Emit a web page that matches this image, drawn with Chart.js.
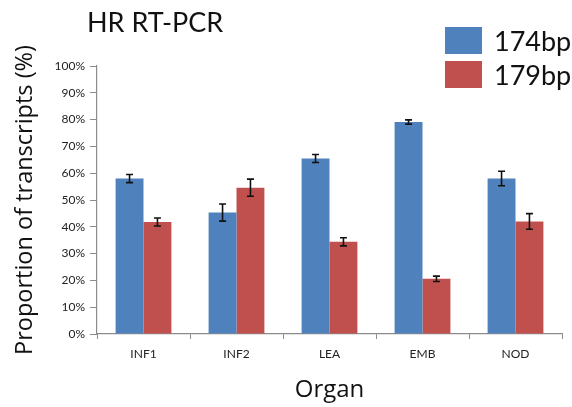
<!DOCTYPE html>
<html>
<head>
<meta charset="utf-8">
<script src="https://cdn.jsdelivr.net/npm/chart.js@4/dist/chart.umd.min.js"></script>
<style>
  html, body { margin: 0; padding: 0; background: #fff; }
  #wrap { position: relative; width: 572px; height: 407px; font-family: Lato, "Open Sans", sans-serif; }
  #title { position: absolute; left: 87px; top: 8px; font-size: 27px; line-height: 1; color: #111; }
  #legend { position: absolute; left: 445px; top: 23px; }
  #legend .item { display: flex; align-items: center; height: 34px; font-size: 27px; color: #111; }
  #legend .box { width: 37px; height: 27px; margin-right: 12px; }
</style>
</head>
<body>
<div id="wrap">
  <canvas id="chart" width="572" height="407"></canvas>
  <div id="title">HR RT-PCR</div>
  <div id="legend"></div>
</div>
<script>
const organs = ['INF1', 'INF2', 'LEA', 'EMB', 'NOD'];
const bp174 = [58.0, 45.3, 65.5, 79.1, 58.0];
const bp174Err = [1.5, 3.2, 1.5, 0.8, 2.7];
const bp179 = [41.8, 54.6, 34.4, 20.6, 42.0];
const bp179Err = [1.5, 3.2, 1.5, 1.0, 2.9];
const yTicks = [0, 10, 20, 30, 40, 50, 60, 70, 80, 90, 100];

const errors = [bp174Err, bp179Err];

// barres d'erreur dessinées à partir des échelles
const errorBars = {
    id: 'errorBars',
    afterDatasetsDraw(chart) {
        const ctx = chart.ctx;
        const y = chart.scales.y;
        ctx.save();
        ctx.strokeStyle = '#111';
        ctx.lineWidth = 1.6;
        chart.data.datasets.forEach((ds, i) => {
            chart.getDatasetMeta(i).data.forEach((bar, j) => {
                const v = ds.data[j], e = errors[i][j];
                const top = y.getPixelForValue(v + e);
                const bot = y.getPixelForValue(v - e);
                ctx.beginPath();
                ctx.moveTo(bar.x, top); ctx.lineTo(bar.x, bot);
                ctx.moveTo(bar.x - 3.5, top); ctx.lineTo(bar.x + 3.5, top);
                ctx.moveTo(bar.x - 3.5, bot); ctx.lineTo(bar.x + 3.5, bot);
                ctx.stroke();
            });
        });
        ctx.restore();
    }
};

const chart = new Chart(document.getElementById('chart'), {
    type: 'bar',
    data: {
        labels: organs,
        datasets: [
            { label: '174bp', data: bp174, backgroundColor: '#4F81BD' },
            { label: '179bp', data: bp179, backgroundColor: '#C0504D' }
        ]
    },
    options: {
        responsive: false,
        animation: false,
        layout: { padding: { top: 66, right: 10, left: 11, bottom: 0 } },
        datasets: { bar: { categoryPercentage: 0.6, barPercentage: 1.0 } },
        plugins: { legend: { display: false }, tooltip: { enabled: false } },
        scales: {
            x: {
                afterFit(scale) { scale.height = 73; },
                grid: { drawOnChartArea: false, offset: true, tickLength: 5, color: '#8c8c8c' },
                border: { color: '#8c8c8c', width: 1.2 },
                ticks: { color: '#222', font: { family: 'Lato', size: 12 }, padding: 8 },
                title: { display: true, text: 'Organ', color: '#111', font: { family: 'Open Sans', size: 24 }, padding: { top: 4, bottom: 2 } }
            },
            y: {
                min: 0, max: 100,
                afterFit(scale) { scale.width = 86; },
                afterBuildTicks(scale) { scale.ticks = yTicks.map(v => ({ value: v })); },
                grid: { drawOnChartArea: false, tickLength: 7, color: '#8c8c8c' },
                border: { color: '#8c8c8c', width: 1.2 },
                ticks: { color: '#222', font: { family: 'Lato', size: 12 }, padding: 5, callback: v => v + '%' },
                title: { display: true, text: 'Proportion of transcripts (%)', color: '#111', font: { family: 'Open Sans', size: 23.5 }, padding: { top: 0, bottom: 2 } }
            }
        }
    },
    plugins: [errorBars]
});

const legend = document.getElementById('legend');
chart.data.datasets.forEach(ds => {
    const item = document.createElement('div');
    item.className = 'item';
    item.innerHTML = '<span class="box" style="background:' + ds.backgroundColor + '"></span>' + ds.label;
    legend.appendChild(item);
});
</script>
</body>
</html>
